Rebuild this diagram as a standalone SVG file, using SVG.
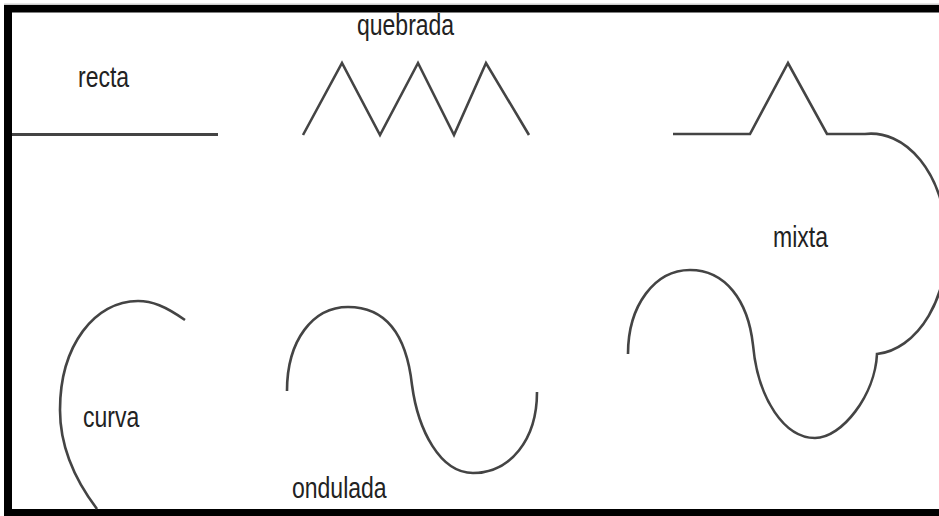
<svg xmlns="http://www.w3.org/2000/svg" width="939" height="516" viewBox="0 0 939 516">
<style>
.ln{fill:none;stroke:#444;stroke-width:2.6;stroke-linejoin:miter;stroke-linecap:butt}
.lb{font-family:"Liberation Sans",Arial,sans-serif;font-size:23px;fill:#222}
.fr{fill:#000}
</style>
<rect x="0" y="0" width="939" height="516" fill="#fff"/>
<g id="frame">
<rect x="4" y="3.5" width="935" height="1.5" fill="#ccc"/>
<rect class="fr" x="4" y="5" width="935" height="7.5"/>
<rect class="fr" x="4" y="5" width="8" height="511"/>
<rect class="fr" x="4" y="509" width="935" height="7"/>
</g>
<g id="recta">
<path class="ln" d="M12,134.5 H218" style="stroke-width:3"/>
<text class="lb" transform="translate(78,87) scale(1,1.25)">recta</text>
</g>
<g id="quebrada">
<path class="ln" d="M303,135 L342,63 L380,135 L418,63 L454,135 L486,63 L529,135"/>
<text class="lb" transform="translate(357,35) scale(1,1.25)">quebrada</text>
</g>
<g id="mixta">
<path class="ln" d="M673,134 L750,134 L788,63 L827,134 L865,134 A73,106 0 0 1 877,354 C875,395 842,438 815,438 C785,438 758,400 753,345 C748,300 725,270 690,270 C655,270 628,305 628,354"/>
<text class="lb" transform="translate(773,247) scale(1,1.25)">mixta</text>
</g>
<g id="curva">
<path class="ln" d="M185,320 C165,306 152,301 138,301 C95,301 60,345 60,410 C60,448 75,480 97,509"/>
<text class="lb" transform="translate(83,427) scale(1,1.25)">curva</text>
</g>
<g id="ondulada">
<path class="ln" d="M287,391 C287,340 313,307 348,307 C390,307 407,340 412,385 C418,430 440,473 473,473 C510,473 537,440 537,392"/>
<text class="lb" transform="translate(292,498) scale(1,1.25)">ondulada</text>
</g>
<g id="connectors"/>
</svg>
